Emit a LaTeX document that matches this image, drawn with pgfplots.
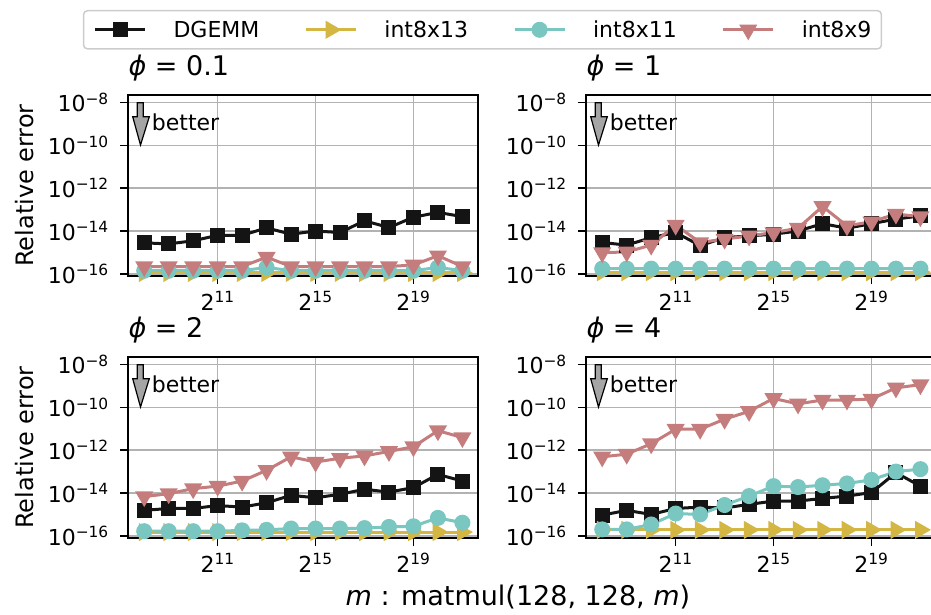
\documentclass[border=0pt]{standalone}
\usepackage{fontspec}
\setmainfont{DejaVu Sans}
\usepackage{pgfplots}
\usepackage{pgfplotstable}
\pgfplotsset{compat=1.18}
\usepgfplotslibrary{groupplots}

\definecolor{cDG}{RGB}{20,20,20}
\definecolor{cI13}{RGB}{212,182,66}
\definecolor{cI11}{RGB}{122,198,193}
\definecolor{cI9}{RGB}{196,124,124}
\definecolor{arrowgray}{RGB}{165,165,165}

% phi = 0.1
\pgfplotstableread{
m dg i13 i11 i9
256 2.8e-15 1.1e-16 1.4e-16 2.2e-16
512 2.5e-15 1.1e-16 1.4e-16 2.2e-16
1024 3.5e-15 1.1e-16 1.4e-16 2.2e-16
2048 6.3e-15 1.1e-16 1.4e-16 2.2e-16
4096 6.3e-15 1.1e-16 1.4e-16 2.2e-16
8192 1.4e-14 1.1e-16 2.0e-16 6.0e-16
16384 7.1e-15 1.1e-16 1.4e-16 2.2e-16
32768 1.0e-14 1.1e-16 1.4e-16 2.2e-16
65536 8.5e-15 1.1e-16 1.4e-16 2.2e-16
131072 3.0e-14 1.1e-16 1.4e-16 2.2e-16
262144 1.45e-14 1.1e-16 1.4e-16 2.2e-16
524288 4.4e-14 1.1e-16 1.4e-16 2.6e-16
1048576 7.4e-14 1.1e-16 2.0e-16 7.0e-16
2097152 4.7e-14 1.1e-16 1.4e-16 2.2e-16
}\tA
% phi = 1
\pgfplotstableread{
m dg i13 i11 i9
256 2.9e-15 1.2e-16 1.75e-16 9.8e-16
512 2.2e-15 1.2e-16 1.75e-16 1.05e-15
1024 4.9e-15 1.2e-16 1.75e-16 2.2e-15
2048 8.5e-15 1.2e-16 1.75e-16 1.9e-14
4096 2.1e-15 1.2e-16 1.75e-16 2.9e-15
8192 4.9e-15 1.2e-16 1.75e-16 4.2e-15
16384 5.9e-15 1.2e-16 1.75e-16 5.9e-15
32768 7.1e-15 1.2e-16 1.75e-16 8.5e-15
65536 1.0e-14 1.2e-16 1.75e-16 1.35e-14
131072 2.2e-14 1.2e-16 1.75e-16 1.4e-13
262144 1.35e-14 1.2e-16 1.75e-16 1.75e-14
524288 2.2e-14 1.2e-16 1.75e-16 2.7e-14
1048576 3.6e-14 1.2e-16 1.75e-16 6.2e-14
2097152 5.1e-14 1.2e-16 1.75e-16 4.7e-14
}\tB
% phi = 2
\pgfplotstableread{
m dg i13 i11 i9
256 1.55e-15 1.5e-16 1.65e-16 6.8e-15
512 1.9e-15 1.5e-16 1.65e-16 9.3e-15
1024 1.9e-15 1.5e-16 1.65e-16 1.6e-14
2048 2.6e-15 1.5e-16 1.65e-16 2.1e-14
4096 2.2e-15 1.5e-16 1.8e-16 3.6e-14
8192 3.5e-15 1.5e-16 1.9e-16 1.15e-13
16384 7.8e-15 1.5e-16 2.2e-16 4.9e-13
32768 6.0e-15 1.5e-16 2.2e-16 2.8e-13
65536 8.7e-15 1.5e-16 2.2e-16 4.2e-13
131072 1.5e-14 1.5e-16 2.3e-16 5.4e-13
262144 1.1e-14 1.5e-16 2.6e-16 8.7e-13
524288 1.8e-14 1.5e-16 2.8e-16 1.45e-12
1048576 7.4e-14 1.5e-16 6.9e-16 8.1e-12
2097152 3.6e-14 1.5e-16 4.1e-16 3.9e-12
}\tC
% phi = 4
\pgfplotstableread{
m dg i13 i11 i9
256 9.3e-16 1.9e-16 2.0e-16 4.9e-13
512 1.55e-15 1.9e-16 2.0e-16 6.5e-13
1024 1.0e-15 1.9e-16 3.4e-16 2.0e-12
2048 1.9e-15 1.9e-16 1.1e-15 9.5e-12
4096 2.2e-15 1.9e-16 1.0e-15 9.5e-12
8192 2.0e-15 1.9e-16 2.75e-15 2.8e-11
16384 2.95e-15 1.9e-16 7.2e-15 6.5e-11
32768 4.2e-15 1.9e-16 2.1e-14 2.6e-10
65536 4.2e-15 1.9e-16 1.9e-14 1.45e-10
131072 5.6e-15 1.9e-16 2.3e-14 2.2e-10
262144 7.2e-15 1.9e-16 2.8e-14 2.2e-10
524288 1.05e-14 1.9e-16 4.1e-14 2.45e-10
1048576 8.9e-14 1.9e-16 1.0e-13 8.1e-10
2097152 2.1e-14 1.9e-16 1.3e-13 1.15e-9
}\tD

\pgfplotsset{
  panel/.style={
    width=350pt, height=181pt, scale only axis,
    xmode=log, ymode=log, log basis x=2,
    xmin=163.15, xmax=3290500,
    ymin=7.94e-17, ymax=2.24e-8,
    xtick={2048,32768,524288},
    xticklabels={2\textsuperscript{11},2\textsuperscript{15},2\textsuperscript{19}},
    ytick={1e-16,1e-14,1e-12,1e-10,1e-8},
    yticklabels={10\textsuperscript{−16},10\textsuperscript{−14},10\textsuperscript{−12},10\textsuperscript{−10},10\textsuperscript{−8}},
    xminorticks=false, yminorticks=false,
    tick align=outside, tick pos=left,
    major tick length=8pt,
    major tick style={black, line width=1.5pt},
    axis line style={line width=1.8pt},
    grid=major, major grid style={line width=1.5pt, color=black!30},
    tick label style={font=\fontsize{22}{26}\selectfont},
    yticklabel style={xshift=-8pt},
    xticklabel style={yshift=-4pt},
    ylabel style={font=\fontsize{24}{28}\selectfont,
      at={(axis description cs:-0.297,0.5)}, anchor=center},
    title style={font=\fontsize{27}{32}\selectfont, at={(rel axis cs:0,1)},
      anchor=base west, yshift=14pt, inner sep=0pt},
    legend image code/.code={\draw[mark repeat=2,mark phase=2]
      plot coordinates {(0pt,0pt) (25pt,0pt) (50pt,0pt)};},
  },
  sDG/.style={color=cDG, line width=3pt, mark=square*, mark size=6pt, mark options={solid}},
  sI13/.style={color=cI13, line width=3pt, mark=triangle*, mark size=7.5pt, mark options={solid, rotate=-90}},
  sI11/.style={color=cI11, line width=3pt, mark=*, mark size=6.5pt, mark options={solid}},
  sI9/.style={color=cI9, line width=3pt, mark=triangle*, mark size=7.5pt, mark options={solid, rotate=180}},
}

\newcommand{\better}{%
  \draw[fill=arrowgray, line width=1.2pt, line join=miter]
    ([shift={(9pt,-7.7pt)}]rel axis cs:0,1) -- ++(6pt,0pt) -- ++(0pt,-14pt) -- ++(6pt,0pt)
    -- ++(-8.8pt,-28.3pt) -- ++(-7.8pt,28.3pt) -- ++(4.6pt,0pt) -- cycle;
  \node[anchor=base west, inner sep=0pt, font=\fontsize{22}{26}\selectfont]
    at ([shift={(23.4pt,-35pt)}]rel axis cs:0,1) {better};}

\newcommand{\fourplots}[1]{%
  \addplot[sDG] table[x=m, y=dg] {#1};
  \addplot[sI13] table[x=m, y=i13] {#1};
  \addplot[sI11] table[x=m, y=i11] {#1};
  \addplot[sI9] table[x=m, y=i9] {#1};}

\begin{document}
\begin{tikzpicture}
\begin{groupplot}[
  group style={group size=2 by 2, horizontal sep=108pt, vertical sep=81pt},
  panel]
\nextgroupplot[title={{\itshape ϕ} = 0.1}, ylabel={Relative error},
  legend columns=4,
  legend style={at={(1.012,1.47)}, anchor=north, draw=black!20, line width=1.5pt,
    rounded corners=4pt, font=\fontsize{22}{26}\selectfont,
    nodes={inner sep=0pt},
    /tikz/every odd column/.append style={column sep=27pt},
    /tikz/every even column/.append style={column sep=45pt},
    inner xsep=10pt, inner ysep=10pt}]
\fourplots{\tA}
\legend{DGEMM, int8x13, int8x11, int8x9}
\better
\nextgroupplot[title={{\itshape ϕ} = 1}]
\fourplots{\tB}
\better
\nextgroupplot[title={{\itshape ϕ} = 2}, ylabel={Relative error}]
\fourplots{\tC}
\better
\nextgroupplot[title={{\itshape ϕ} = 4}]
\fourplots{\tD}
\better
\end{groupplot}
\node[anchor=base, font=\fontsize{27}{32}\selectfont]
  at ([shift={(389.7pt,-510pt)}]group c1r1.north west)
  {{\itshape m} : matmul(128, 128, {\itshape m})};
\pgfresetboundingbox
\path[use as bounding box] ([shift={(-128.3pt,95pt)}]group c1r1.north west)
  rectangle ([shift={(802.7pt,-520pt)}]group c1r1.north west);
\end{tikzpicture}
\end{document}
